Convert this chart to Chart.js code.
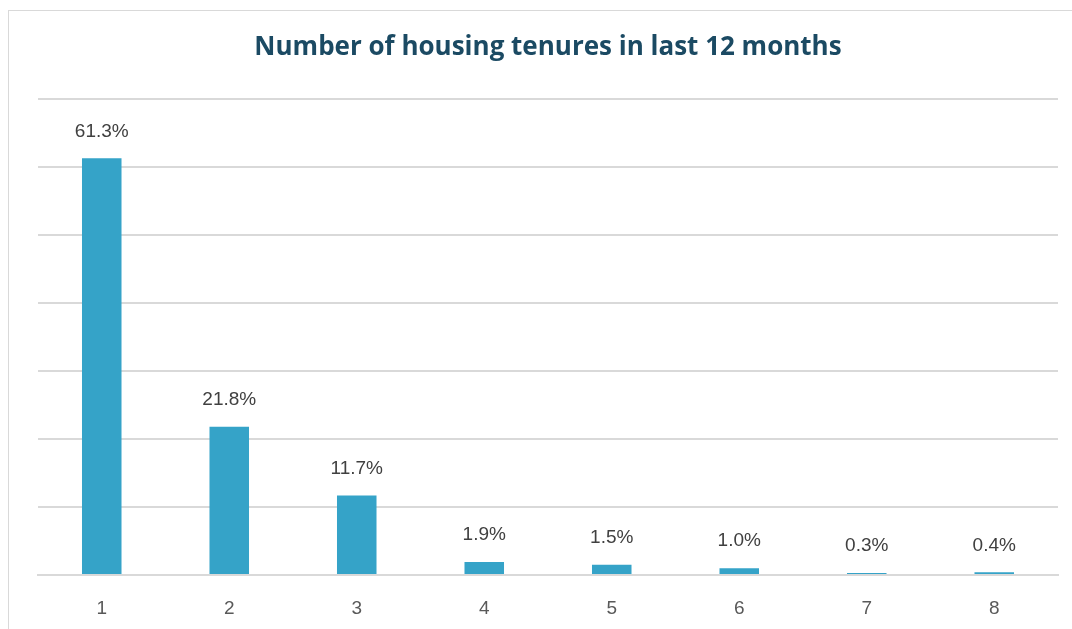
<!DOCTYPE html>
<html>
<head>
<meta charset="utf-8">
<script src="https://cdn.jsdelivr.net/npm/chart.js@4"></script>
<style>
  html, body { margin: 0; padding: 0; background: #fff; }
  #wrap { position: relative; width: 1072px; height: 629px; overflow: hidden; }
  #frame { position: absolute; left: 8px; top: 10px; width: 1100px; height: 700px; border: 1px solid #d9d9d9; box-sizing: border-box; }
  canvas { position: absolute; left: 0; top: 0; }
</style>
</head>
<body>
<div id="wrap">
  <div id="frame"></div>
  <canvas id="chart" width="1072" height="629"></canvas>
</div>
<script>
const tenures = ['1', '2', '3', '4', '5', '6', '7', '8'];
const shares = [61.3, 21.8, 11.7, 1.9, 1.5, 1.0, 0.3, 0.4];
const TITLE = 'Number of housing tenures in last 12 months';
const BAR_COLOR = '#35a3c8';

// labels above each bar, positioned from the bar elements
const barLabels = {
  id: 'barLabels',
  afterDatasetsDraw(chart) {
    const ctx = chart.ctx;
    const meta = chart.getDatasetMeta(0);
    ctx.save();
    ctx.font = '19px "Liberation Sans", Arial, sans-serif';
    ctx.fillStyle = '#404040';
    ctx.textAlign = 'center';
    ctx.textBaseline = 'middle';
    meta.data.forEach((bar, i) => {
      ctx.fillText(shares[i].toFixed(1) + '%', bar.x, bar.y - 27);
    });
    ctx.restore();
  }
};

new Chart(document.getElementById('chart'), {
  type: 'bar',
  data: {
    labels: tenures,
    datasets: [{
      data: shares,
      backgroundColor: BAR_COLOR,
      borderWidth: 0,
      barPercentage: 1,
      categoryPercentage: 0.31
    }]
  },
  options: {
    responsive: false,
    animation: false,
    layout: { padding: { left: 38, right: 14, top: 0, bottom: 0 } },
    plugins: {
      legend: { display: false },
      tooltip: { enabled: false },
      title: {
        display: true,
        text: TITLE,
        color: '#1b4a63',
        font: { family: '"Open Sans", sans-serif', size: 26, weight: 'bold' },
        padding: { top: 32, bottom: 36 }
      }
    },
    scales: {
      y: {
        min: 0, max: 70,
        ticks: { display: false, stepSize: 10 },
        border: { display: false },
        grid: { color: '#d9d9d9', lineWidth: 2, drawTicks: false }
      },
      x: {
        grid: { display: false },
        border: { color: '#d9d9d9', width: 2 },
        ticks: { color: '#595959', font: { family: '"Liberation Sans", Arial, sans-serif', size: 19 }, padding: 14 },
        afterFit(scale) { scale.height = 54; }
      }
    }
  },
  plugins: [barLabels]
});
</script>
</body>
</html>
